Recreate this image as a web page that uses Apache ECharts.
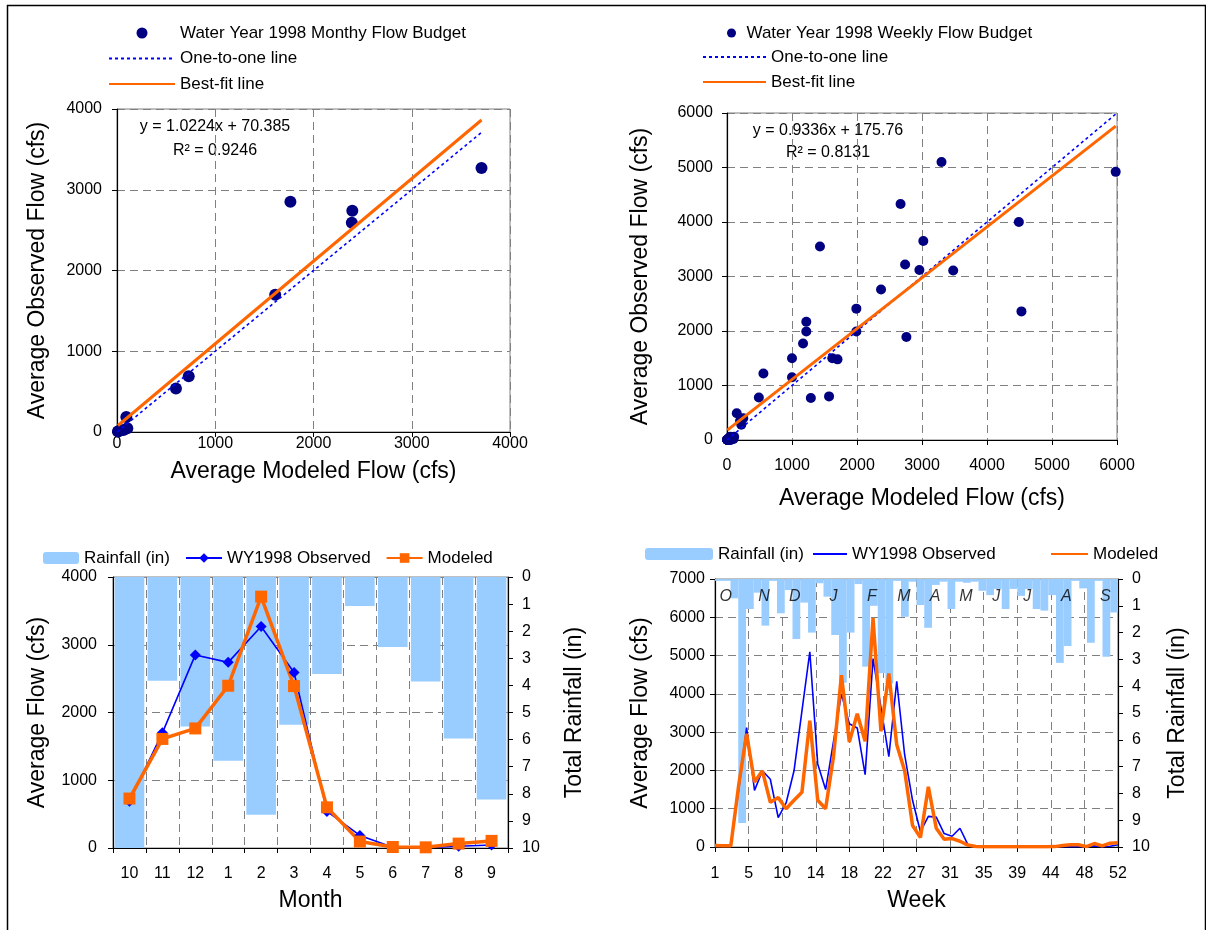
<!DOCTYPE html>
<html>
<head>
<meta charset="utf-8">
<title>Water Year 1998 flow budget</title>
<script src="https://cdn.jsdelivr.net/npm/echarts@6/dist/echarts.min.js"></script>
<style>
  html, body { margin:0; padding:0; background:#fff; }
  #chart { width:1206px; height:930px; }
</style>
</head>
<body>
<div id="chart"></div>
<script type="text/javascript">
// ---- monthly budget, water year Oct..Sep ----
var monthNums = ['10', '11', '12', '1', '2', '3', '4', '5', '6', '7', '8', '9'];
var monthLetters = ['O', 'N', 'D', 'J', 'F', 'M', 'A', 'M', 'J', 'J', 'A', 'S'];
var monthObserved = [690, 1700, 2850, 2740, 3270, 2590, 540, 185, 10, 5, 25, 45];
var monthModeled = [730, 1610, 1765, 2395, 3710, 2390, 600, 95, 15, 10, 65, 105];
var monthRain = [10, 3.83, 5.52, 6.78, 8.77, 5.45, 3.58, 1.07, 2.58, 3.86, 5.96, 8.21];

// ---- weekly budget ----
var weekNums = [1, 2, 3, 4, 5, 6, 7, 8, 9, 10, 11, 12, 13, 14, 15, 16, 17, 18, 19, 20, 21, 22, 23, 24, 25, 26,
  27, 28, 29, 30, 31, 32, 33, 34, 35, 36, 37, 38, 39, 40, 41, 42, 43, 44, 45, 46, 47, 48, 49, 50, 51, 52];
var weekObserved = [40, 35, 30, 1500, 3120, 1480, 1990, 1770, 770, 1150, 1990, 3550, 5100, 2170, 1500, 2760,
  4000, 3220, 3110, 1890, 4920, 3650, 2360, 4330, 2410, 1220, 400, 800, 780, 350, 280, 490, 60, 5,
  5, 5, 5, 5, 5, 5, 5, 5, 5, 5, 5, 5, 5, 5, 30, 10, 20, 60];
var weekModeled = [40, 35, 30, 1620, 2960, 1700, 1990, 1170, 1290, 1000, 1220, 1430, 3300, 1220, 1000, 2370,
  4490, 2740, 3480, 2760, 5980, 3020, 4530, 2670, 1990, 560, 250, 1570, 490, 200, 220, 150, 50, 15,
  5, 5, 5, 5, 5, 5, 5, 5, 5, 10, 40, 60, 60, 10, 90, 30, 100, 110];
var weekRain = [0.07, 0.07, 0.72, 9.1, 1.12, 0.51, 1.74, 0.07, 1.28, 0.41, 2.24, 0.88, 2.0, 0.16, 0.66, 2.09,
  3.87, 2.0, 0.19, 3.27, 1.0, 3.52, 3.9, 0.07, 1.41, 0.1, 0.97, 1.82, 0.22, 0.1, 1.12, 0.1, 0.14, 0.1,
  0.44, 0.6, 0.37, 1.12, 0.37, 0.63, 0.37, 1.12, 1.18, 0.6, 3.13, 2.5, 0.07, 0.35, 2.38, 0.07, 2.9, 1.25];
// week at which each month letter sits
var weekMonthPos = [2.35, 7.2, 11.1, 16, 20.85, 24.9, 28.85, 32.75, 36.6, 40.5, 45.45, 50.4];

// Excel trendlines as printed on the charts
var monthlyFit = { slope: 1.0224, intercept: 70.385, r2: '0.9246' };
var weeklyFit = { slope: 0.9336, intercept: 175.76, r2: '0.8131' };

var FONT = '"Liberation Sans", Arial, sans-serif';
var NAVY = '#000080', BLUE = '#0000FF', ORANGE = '#FF6600', RAIN = '#99CCFF', GRID = '#808080';

function pairs(xs, ys) {
  return xs.map(function (x, i) { return [x, ys[i]]; });
}
function fitLine(xs, fit) {
  var lo = Math.min.apply(null, xs), hi = Math.max.apply(null, xs);
  return [[lo, fit.slope * lo + fit.intercept], [hi, fit.slope * hi + fit.intercept]];
}
function oneToOne(xs) {
  var hi = Math.max.apply(null, xs);
  return [[0, 0], [hi, hi]];
}
function plain(v) { return String(v); }

var lbl = { color: '#000', fontSize: 16, fontFamily: FONT };
var nameTxt = { color: '#000', fontSize: 23, fontFamily: FONT };
var legendTxt = { fontSize: 17, fontFamily: FONT, color: '#000', lineHeight: 18 };
var dash = { show: true, lineStyle: { color: GRID, width: 1, type: [8, 5] } };
var blackLine = { show: true, lineStyle: { color: '#000', width: 1.2 } };
var ticks = { show: true, length: 5, lineStyle: { color: '#000' } };
var noSymbol = { opacity: 0 };

function flowAxis(grid, max, name, gap, margin) {
  return {
    type: 'value', gridIndex: grid, min: 0, max: max, interval: 1000,
    name: name, nameLocation: 'middle', nameGap: gap, nameRotate: 90, nameTextStyle: nameTxt,
    axisLine: blackLine, axisTick: ticks, axisLabel: Object.assign({ margin: margin, formatter: plain }, lbl),
    splitLine: dash
  };
}
function rainAxis(grid, gap, margin) {
  return {
    type: 'value', gridIndex: grid, position: 'right', inverse: true, min: 0, max: 10, interval: 1,
    name: 'Total Rainfall (in)', nameLocation: 'middle', nameGap: gap, nameRotate: 90, nameTextStyle: nameTxt,
    axisLine: blackLine, axisTick: ticks, axisLabel: Object.assign({ margin: margin, formatter: plain }, lbl),
    splitLine: { show: false }
  };
}
function legendBox(left, top, w, h, items, orient, gap) {
  return {
    orient: orient || 'horizontal', left: left, top: top, padding: 0,
    itemWidth: w, itemHeight: h, itemGap: gap || 0, textStyle: legendTxt, data: items
  };
}

var dom = document.getElementById('chart');
var myChart = echarts.init(dom);

var option = {
  backgroundColor: '#fff',
  animation: false,
  textStyle: { fontFamily: FONT },
  grid: [
    { left: 117, top: 109, width: 393, height: 323, show: true, borderColor: GRID, borderWidth: 1 },
    { left: 727, top: 113, width: 390, height: 327, show: true, borderColor: GRID, borderWidth: 1 },
    { left: 113, top: 577, width: 395, height: 271, show: true, borderColor: GRID, borderWidth: 1 },
    { left: 715, top: 579, width: 403, height: 268, show: true, borderColor: GRID, borderWidth: 1 }
  ],
  legend: [
    legendBox(108, 24, 66, 11, [
      'Water Year 1998 Monthy Flow Budget',
      { name: 'One-to-one line', itemStyle: noSymbol },
      { name: 'Best-fit line', itemStyle: noSymbol }
    ], 'vertical', 7.5),
    legendBox(727, 24, 20, 9, ['Water Year 1998 Weekly Flow Budget']),
    legendBox(702, 48, 63, 9, [
      { name: 'One-to-one line ', itemStyle: noSymbol },
      { name: 'Best-fit line ', itemStyle: noSymbol }
    ], 'vertical', 7),
    legendBox(43, 549, 36, 12, ['Rainfall (in)', 'WY1998 Observed', 'Modeled'], 'horizontal', 15),
    legendBox(645, 545, 68, 12, ['Rainfall (in) ']),
    legendBox(812, 545, 34, 12, [{ name: 'WY1998 Observed ', itemStyle: noSymbol }]),
    legendBox(1050, 545, 37, 12, [{ name: 'Modeled ', itemStyle: noSymbol }])
  ],
  xAxis: [
    {
      type: 'value', gridIndex: 0, min: 0, max: 4000, interval: 1000,
      name: 'Average Modeled Flow (cfs)', nameLocation: 'middle', nameGap: 28, nameTextStyle: nameTxt,
      axisLine: blackLine, axisTick: ticks, axisLabel: Object.assign({ margin: 4, formatter: plain }, lbl),
      splitLine: dash
    },
    {
      type: 'value', gridIndex: 1, min: 0, max: 6000, interval: 1000,
      name: 'Average Modeled Flow (cfs)', nameLocation: 'middle', nameGap: 47, nameTextStyle: nameTxt,
      axisLine: blackLine, axisTick: ticks, axisLabel: Object.assign({ margin: 18, formatter: plain }, lbl),
      splitLine: dash
    },
    {
      type: 'category', gridIndex: 2, data: monthNums, boundaryGap: true,
      name: 'Month', nameLocation: 'middle', nameGap: 41, nameTextStyle: nameTxt,
      axisLine: blackLine, axisTick: ticks, axisLabel: Object.assign({ margin: 18 }, lbl), splitLine: dash
    },
    {
      type: 'value', gridIndex: 3, min: 1, max: 52, interval: 4.25,
      name: 'Week', nameLocation: 'middle', nameGap: 42, nameTextStyle: nameTxt,
      axisLine: blackLine, axisTick: ticks,
      axisLabel: Object.assign({ margin: 19, formatter: function (v) { return String(Math.round(v)); } }, lbl),
      splitLine: dash
    },
    { type: 'category', gridIndex: 3, data: weekNums, boundaryGap: true, show: false },
    {
      type: 'category', gridIndex: 2, position: 'top', data: monthLetters, boundaryGap: true,
      axisLine: { show: false }, axisTick: { show: false }, splitLine: { show: false },
      axisLabel: { inside: true, margin: 13, fontSize: 16, fontStyle: 'italic', color: '#000', fontFamily: FONT }
    }
  ],
  yAxis: [
    flowAxis(0, 4000, 'Average Observed Flow (cfs)', 68, 15),
    flowAxis(1, 6000, 'Average Observed Flow (cfs)', 75, 14),
    flowAxis(2, 4000, 'Average Flow (cfs)', 64, 16),
    rainAxis(2, 55, 14),
    flowAxis(3, 7000, 'Average Flow (cfs)', 63, 10),
    rainAxis(3, 48, 14)
  ],
  series: [
    // monthly scatter
    {
      name: 'Water Year 1998 Monthy Flow Budget', type: 'scatter', xAxisIndex: 0, yAxisIndex: 0,
      symbolSize: 12, itemStyle: { color: NAVY, opacity: 1 }, data: pairs(monthModeled, monthObserved), z: 3
    },
    {
      name: 'One-to-one line', type: 'line', xAxisIndex: 0, yAxisIndex: 0, symbol: 'none',
      lineStyle: { color: BLUE, width: 1.6, type: [3, 3] }, itemStyle: { color: BLUE },
      data: oneToOne(monthModeled), z: 4
    },
    {
      name: 'Best-fit line', type: 'line', xAxisIndex: 0, yAxisIndex: 0, symbol: 'none',
      lineStyle: { color: ORANGE, width: 3 }, itemStyle: { color: ORANGE },
      data: fitLine(monthModeled, monthlyFit), z: 5
    },
    // weekly scatter
    {
      name: 'Water Year 1998 Weekly Flow Budget', type: 'scatter', xAxisIndex: 1, yAxisIndex: 1,
      symbolSize: 10, itemStyle: { color: NAVY, opacity: 1 }, data: pairs(weekModeled, weekObserved), z: 3
    },
    {
      name: 'One-to-one line ', type: 'line', xAxisIndex: 1, yAxisIndex: 1, symbol: 'none',
      lineStyle: { color: BLUE, width: 1.6, type: [3, 3] }, itemStyle: { color: BLUE },
      data: oneToOne(weekModeled), z: 4
    },
    {
      name: 'Best-fit line ', type: 'line', xAxisIndex: 1, yAxisIndex: 1, symbol: 'none',
      lineStyle: { color: ORANGE, width: 3 }, itemStyle: { color: ORANGE },
      data: fitLine(weekModeled, weeklyFit), z: 5
    },
    // monthly time series
    {
      name: 'Rainfall (in)', type: 'bar', xAxisIndex: 2, yAxisIndex: 3, barCategoryGap: '10%',
      itemStyle: { color: RAIN }, data: monthRain
    },
    {
      name: 'WY1998 Observed', type: 'line', xAxisIndex: 2, yAxisIndex: 2,
      symbol: 'diamond', symbolSize: 11, lineStyle: { color: BLUE, width: 1.6 }, itemStyle: { color: BLUE },
      data: monthObserved
    },
    {
      name: 'Modeled', type: 'line', xAxisIndex: 2, yAxisIndex: 2,
      symbol: 'rect', symbolSize: 12, lineStyle: { color: ORANGE, width: 3.5 }, itemStyle: { color: ORANGE },
      data: monthModeled
    },
    // weekly time series
    {
      name: 'Rainfall (in) ', type: 'bar', xAxisIndex: 4, yAxisIndex: 5, barCategoryGap: 0,
      itemStyle: { color: RAIN }, data: weekRain
    },
    {
      name: 'WY1998 Observed ', type: 'line', xAxisIndex: 3, yAxisIndex: 4, symbol: 'none',
      lineStyle: { color: BLUE, width: 1.6 }, itemStyle: { color: BLUE },
      data: pairs(weekNums, weekObserved)
    },
    {
      name: 'Modeled ', type: 'line', xAxisIndex: 3, yAxisIndex: 4, symbol: 'none',
      lineStyle: { color: ORANGE, width: 3.5 }, itemStyle: { color: ORANGE },
      data: pairs(weekNums, weekModeled)
    },
    {
      name: 'month letters', type: 'scatter', xAxisIndex: 3, yAxisIndex: 5, symbolSize: 1,
      itemStyle: { color: 'rgba(0,0,0,0)' }, silent: true, z: 6,
      label: {
        show: true, position: 'inside', fontSize: 16, fontStyle: 'italic', color: '#000', fontFamily: FONT,
        formatter: function (p) { return monthLetters[p.dataIndex]; }
      },
      data: weekMonthPos.map(function (w) { return [w, 0.66]; })
    }
  ],
  graphic: [
    {
      type: 'rect', left: 5, top: 3, silent: true,
      shape: { width: 1198, height: 940 }, style: { fill: null, stroke: '#000', lineWidth: 1.5 }
    },
    {
      type: 'text', x: 215, y: 127, silent: true,
      style: { text: 'y = ' + monthlyFit.slope + 'x + ' + monthlyFit.intercept, fill: '#000',
        font: '16px ' + FONT, align: 'center', verticalAlign: 'middle' }
    },
    {
      type: 'text', x: 215, y: 151, silent: true,
      style: { text: 'R\u00b2 = ' + monthlyFit.r2, fill: '#000', font: '16px ' + FONT, align: 'center', verticalAlign: 'middle' }
    },
    {
      type: 'text', x: 828, y: 131, silent: true,
      style: { text: 'y = ' + weeklyFit.slope + 'x + ' + weeklyFit.intercept, fill: '#000',
        font: '16px ' + FONT, align: 'center', verticalAlign: 'middle' }
    },
    {
      type: 'text', x: 828, y: 153, silent: true,
      style: { text: 'R\u00b2 = ' + weeklyFit.r2, fill: '#000', font: '16px ' + FONT, align: 'center', verticalAlign: 'middle' }
    }
  ]
};

if (option && typeof option === 'object') {
  myChart.setOption(option, true);
}
</script>
</body>
</html>
